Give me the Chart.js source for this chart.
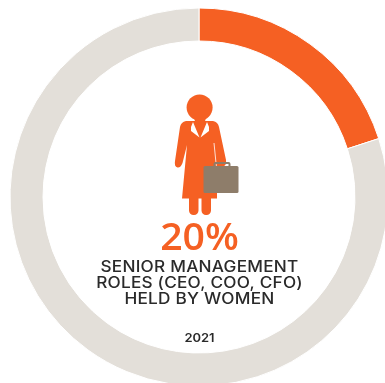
<!DOCTYPE html>
<html>
<head>
<meta charset="utf-8">
<title>Senior management roles held by women</title>
<script src="https://cdn.jsdelivr.net/npm/chart.js@4/dist/chart.umd.min.js"></script>
<style>
  html, body { margin: 0; padding: 0; background: #fff; overflow: hidden; width: 385px; height: 383px; }
  canvas { display: block; }
</style>
</head>
<body>
<canvas id="rolesChart" width="400" height="400"></canvas>
<script>
const categories = ['Held by women', 'Held by men'];
const shares = [20, 80];
const sliceColors = ['#f56023', '#e3dfd9'];
const headline = '20%';
const captionLines = ['SENIOR MANAGEMENT', 'ROLES (CEO, COO, CFO)', 'HELD BY WOMEN'];
const year = '2021';

const ORANGE = '#f56023';
const BAG = '#8e7d6a';
const INK = '#2a2a2a';

function drawFigure(ctx) {
  ctx.fillStyle = ORANGE;

  // head
  ctx.beginPath();
  ctx.arc(199.6, 107.5, 13, 0, Math.PI * 2);
  ctx.fill();

  // jacket, arms and skirt
  ctx.beginPath();
  ctx.moveTo(186, 121);
  ctx.lineTo(213, 121);
  ctx.quadraticCurveTo(218, 122, 219, 127);
  ctx.lineTo(226, 160);
  ctx.quadraticCurveTo(227, 167, 221, 167);
  ctx.lineTo(217, 167);
  ctx.lineTo(217, 198.5);
  ctx.lineTo(182, 198.5);
  ctx.lineTo(187, 145);
  ctx.lineTo(182.5, 163);
  ctx.quadraticCurveTo(180.5, 168, 177.5, 167.5);
  ctx.quadraticCurveTo(174, 166.5, 175, 161);
  ctx.lineTo(180, 127);
  ctx.quadraticCurveTo(181, 122, 186, 121);
  ctx.closePath();
  ctx.fill();

  // legs
  ctx.beginPath();
  ctx.roundRect(189, 197, 9.5, 18, [0, 0, 4.5, 4.5]);
  ctx.roundRect(201.5, 197, 9.5, 18, [0, 0, 4.5, 4.5]);
  ctx.fill();

  // neck runs down to the point of the V
  ctx.beginPath();
  ctx.moveTo(194, 118);
  ctx.lineTo(206, 118);
  ctx.lineTo(200, 137);
  ctx.closePath();
  ctx.fill();

  // white lapels and the seam beside the right arm
  ctx.fillStyle = '#fff';
  ctx.beginPath();
  ctx.moveTo(193, 122);
  ctx.lineTo(199.5, 137.5);
  ctx.lineTo(191, 131);
  ctx.lineTo(191, 127);
  ctx.closePath();
  ctx.moveTo(207, 122);
  ctx.lineTo(200.5, 137.5);
  ctx.lineTo(209, 131);
  ctx.lineTo(209, 127);
  ctx.closePath();
  ctx.fill();
  ctx.strokeStyle = '#fff';
  ctx.lineWidth = 0.8;
  ctx.beginPath();
  ctx.moveTo(214, 143);
  ctx.lineTo(216.5, 168);
  ctx.stroke();

  // briefcase
  ctx.strokeStyle = BAG;
  ctx.lineWidth = 2;
  ctx.beginPath();
  ctx.roundRect(214.5, 163, 15, 6, 1);
  ctx.stroke();
  ctx.fillStyle = BAG;
  ctx.beginPath();
  ctx.roundRect(203.5, 166, 35, 27, 1.5);
  ctx.fill();
}

// Centered text pulled wider than the font's own proportions
function wideText(ctx, text, x, y, stretch) {
  ctx.save();
  ctx.translate(x, y);
  ctx.scale(stretch, 1);
  ctx.fillText(text, 0, 0);
  ctx.restore();
}

const centerArtwork = {
  id: 'centerArtwork',
  afterDraw(chart) {
    const ctx = chart.ctx;
    ctx.save();
    drawFigure(ctx);

    ctx.textAlign = 'center';
    ctx.textBaseline = 'alphabetic';
    ctx.fillStyle = ORANGE;
    ctx.font = '600 37px "Open Sans"';
    wideText(ctx, headline, 199.5, 250, 1.06);

    ctx.fillStyle = INK;
    ctx.font = '500 15.5px Inter';
    ctx.letterSpacing = '0.2px';
    const baselines = [271.5, 287.5, 304];
    captionLines.forEach((line, i) => wideText(ctx, line, 199.5, baselines[i], 1.11));

    ctx.font = '600 12px Inter';
    ctx.letterSpacing = '0px';
    wideText(ctx, year, 199.5, 342, 1.08);
    ctx.restore();
  }
};

new Chart(document.getElementById('rolesChart'), {
  type: 'doughnut',
  data: {
    labels: categories,
    datasets: [{
      data: shares,
      backgroundColor: sliceColors,
      borderColor: '#fff',
      borderWidth: 1
    }]
  },
  options: {
    responsive: false,
    animation: false,
    cutout: 156,
    layout: { padding: { left: 9.5, top: 7.5, right: 11.5, bottom: 13.5 } },
    plugins: { legend: { display: false }, tooltip: { enabled: false } }
  },
  plugins: [centerArtwork]
});
</script>
</body>
</html>
